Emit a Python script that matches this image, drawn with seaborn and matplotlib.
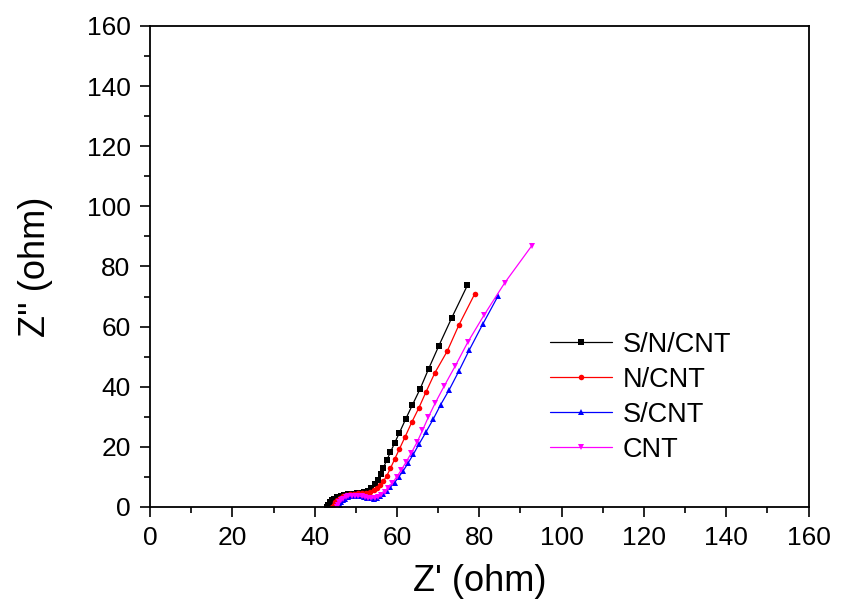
import pandas as pd
import seaborn as sns
import matplotlib
matplotlib.use('Agg')
import matplotlib.pyplot as plt
from matplotlib.ticker import MultipleLocator

# Nyquist data (Z' , Z'' in ohm)
snc_x = [43.0, 43.3, 43.7, 44.2, 44.8, 45.5, 46.3, 47.2, 48.2, 49.2, 50.2, 51.2, 52.1, 53.0, 53.8,
         54.6, 55.3, 56.0, 56.7, 57.5, 58.4, 59.4, 60.6, 62.1, 63.7, 65.6, 67.7, 70.2, 73.3, 77.1]
snc_y = [0.0, 0.8, 1.5, 2.2, 2.8, 3.4, 3.8, 4.1, 4.3, 4.4, 4.5, 4.6, 4.9, 5.4, 6.3,
         7.5, 9.0, 11.0, 13.1, 15.5, 18.2, 21.2, 24.7, 29.2, 33.8, 39.2, 46.0, 53.7, 62.9, 73.7]

nc_x = [44.3, 44.6, 45.0, 45.5, 46.1, 46.8, 47.6, 48.5, 49.5, 50.5, 51.5, 52.5, 53.4, 54.3, 55.1,
        55.9, 56.7, 57.5, 58.4, 59.4, 60.6, 62.0, 63.6, 65.3, 67.0, 69.2, 72.2, 75.0, 78.9]
nc_y = [0.0, 0.8, 1.6, 2.3, 2.9, 3.5, 3.9, 4.2, 4.4, 4.5, 4.6, 4.7, 5.0, 5.5, 6.3,
        7.3, 8.6, 10.3, 12.8, 15.8, 19.3, 23.4, 28.2, 32.9, 38.1, 44.6, 51.8, 60.4, 70.9]

sc_x = [46.0, 46.2, 46.5, 46.9, 47.4, 48.0, 48.7, 49.5, 50.3, 51.1, 51.9, 52.7, 53.5, 54.3, 55.1,
        55.9, 56.7, 57.5, 58.4, 59.4, 60.4, 61.5, 62.7, 64.0, 65.4, 67.0, 68.8, 70.6, 72.7, 75.0,
        77.6, 80.8, 84.6]
sc_y = [0.0, 0.8, 1.5, 2.2, 2.8, 3.3, 3.6, 3.8, 3.8, 3.7, 3.4, 3.1, 2.9, 2.8, 3.0,
        3.5, 4.3, 5.3, 6.6, 8.1, 9.9, 12.0, 14.6, 17.6, 21.0, 24.8, 29.2, 34.0, 39.0, 45.1,
        52.3, 60.7, 70.3]

cnt_x = [45.5, 45.7, 46.0, 46.4, 46.9, 47.5, 48.2, 49.0, 49.8, 50.6, 51.4, 52.2, 53.0, 53.8, 54.6,
         55.4, 56.2, 57.0, 57.9, 58.9, 59.9, 61.0, 62.2, 63.5, 64.9, 66.2, 67.6, 69.3, 71.5, 74.2,
         77.2, 81.1, 86.2, 92.7]
cnt_y = [0.0, 0.8, 1.5, 2.2, 2.8, 3.3, 3.6, 3.8, 3.8, 3.7, 3.5, 3.2, 3.0, 2.9, 3.0,
         3.4, 4.1, 5.1, 6.4, 8.0, 9.9, 12.2, 14.9, 18.0, 21.6, 25.5, 29.8, 34.6, 40.3, 47.0,
         54.8, 63.7, 74.6, 86.8]

samples = ['S/N/CNT', 'N/CNT', 'S/CNT', 'CNT']
series = [(snc_x, snc_y), (nc_x, nc_y), (sc_x, sc_y), (cnt_x, cnt_y)]
colors = ['black', 'red', 'blue', 'magenta']
marks = ['s', 'o', '^', 'v']

sns.set_theme(style='ticks')
plt.rcParams['font.family'] = ['Liberation Sans', 'DejaVu Sans']
plt.rcParams['text.color'] = 'black'
plt.rcParams['axes.labelcolor'] = 'black'

fig = plt.figure(figsize=(8.41, 6.10), dpi=100)
ax = fig.add_axes([0.1784, 0.1689, 0.783, 0.7885])

for name, (xs, ys), c, m in zip(samples, series, colors, marks):
    df = pd.DataFrame({'Zre': xs, 'Zim': ys})
    sns.lineplot(data=df, x='Zre', y='Zim', ax=ax, sort=False, estimator=None,
                 color=c, marker=m, markersize=4, markeredgewidth=0,
                 linewidth=0.9, label=name)

ax.set_xlim(0, 160)
ax.set_ylim(0, 160)
ax.xaxis.set_major_locator(MultipleLocator(20))
ax.yaxis.set_major_locator(MultipleLocator(20))
ax.xaxis.set_minor_locator(MultipleLocator(10))
ax.yaxis.set_minor_locator(MultipleLocator(10))
ax.tick_params(which='major', direction='out', length=7, width=1.2, labelsize=19,
               colors='black', pad=7)
ax.tick_params(which='minor', direction='out', length=4, width=1.2, colors='black')
for s in ax.spines.values():
    s.set_visible(True)
    s.set_linewidth(1.3)
    s.set_color('black')

ax.set_xlabel("Z' (ohm)", fontsize=26, labelpad=10, color='black')
ax.set_ylabel("Z'' (ohm)", fontsize=26, labelpad=24, color='black')

leg = ax.legend(loc='upper left', bbox_to_anchor=(0.607, 0.364), frameon=False, fontsize=19.5,
                handlelength=2.3, handletextpad=0.4, labelspacing=0.33, numpoints=1,
                borderpad=0, borderaxespad=0)
for t in leg.get_texts():
    t.set_color('black')

plt.savefig('out.png', dpi=100)
plt.close('all')
